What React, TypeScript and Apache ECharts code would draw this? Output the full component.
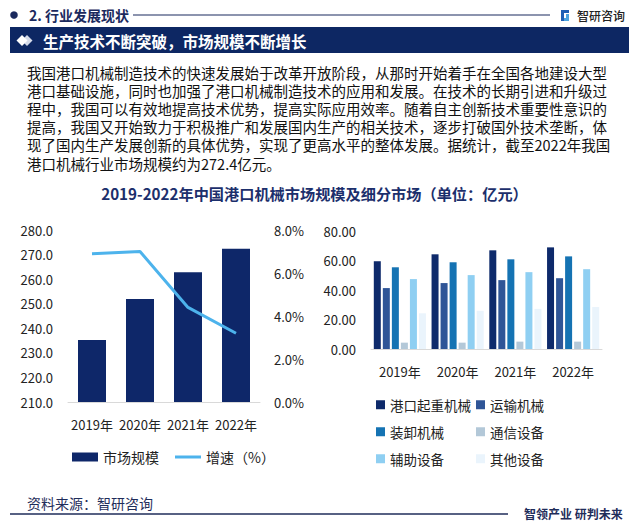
import React, { useEffect, useRef } from "react";
import * as echarts from "echarts";

const years = ["2019年", "2020年", "2021年", "2022年"];
const marketSize = [235.2, 251.9, 262.8, 272.4];
const growthRate = [6.9, 7.0, 4.4, 3.2];

const segmentNames = ["港口起重机械", "运输机械", "装卸机械", "通信设备", "辅助设备", "其他设备"];
const craneMachinery = [59.5, 64.2, 66.9, 68.9];
const transportMachinery = [41.3, 44.7, 46.7, 48.0];
const handlingMachinery = [55.4, 58.8, 60.8, 62.8];
const commEquipment = [4.3, 4.3, 5.0, 5.0];
const auxEquipment = [47.4, 50.1, 52.1, 54.1];
const otherEquipment = [24.2, 25.9, 27.2, 28.5];
const segmentValues = [craneMachinery, transportMachinery, handlingMachinery, commEquipment, auxEquipment, otherEquipment];
const segmentColors = ["#0E2A6B", "#2F5597", "#1573B3", "#B3C8D8", "#8FCFF2", "#EAF4FC"];

const paragraphLines = [
  "我国港口机械制造技术的快速发展始于改革开放阶段，从那时开始着手在全国各地建设大型",
  "港口基础设施，同时也加强了港口机械制造技术的应用和发展。在技术的长期引进和升级过",
  "程中，我国可以有效地提高技术优势，提高实际应用效率。随着自主创新技术重要性意识的",
  "提高，我国又开始致力于积极推广和发展国内生产的相关技术，逐步打破国外技术垄断，体",
  "现了国内生产发展创新的具体优势，实现了更高水平的整体发展。据统计，截至2022年我国",
  "港口机械行业市场规模约为272.4亿元。",
];

const FONT = "'Noto Sans CJK SC', 'Noto Sans', sans-serif";
const NAVY = "#0D2763";

export default function App() {
  const ref = useRef<HTMLDivElement>(null);
  useEffect(() => {
    if (!ref.current) return;
    const chart = echarts.init(ref.current, undefined, { renderer: "svg" });

    const graphics: any[] = [
      // header
      { type: "circle", shape: { cx: 14, cy: 15, r: 3.8 }, style: { fill: "#1B2A5E" } },
      { type: "text", x: 29, y: 15, style: { text: "2. 行业发展现状", font: `bold 14px ${FONT}`, fill: "#1B2A5E", verticalAlign: "middle" } },
      { type: "line", shape: { x1: 133, y1: 15, x2: 550, y2: 15 }, style: { stroke: "#1B2A5E", lineWidth: 1.2 } },
      { type: "rect", shape: { x: 561, y: 10, width: 3, height: 11 }, style: { fill: "#1E5FB5" } },
      { type: "rect", shape: { x: 564, y: 10, width: 5, height: 3 }, style: { fill: "#1E5FB5" } },
      { type: "rect", shape: { x: 566, y: 14, width: 3, height: 4 }, style: { fill: "#4AA3E0" } },
      { type: "rect", shape: { x: 564, y: 18, width: 5, height: 3 }, style: { fill: "#4AA3E0" } },
      { type: "text", x: 577, y: 15, style: { text: "智研咨询", font: `500 12px ${FONT}`, fill: "#222", verticalAlign: "middle" } },
      // banner
      { type: "rect", shape: { x: 10, y: 27, width: 619, height: 26 }, style: { fill: NAVY } },
      { type: "polygon", shape: { points: [[27, 35], [32.5, 40.5], [27, 46], [21.5, 40.5]] }, style: { fill: "#D6DCEA" } },
      { type: "polygon", shape: { points: [[22, 35], [27.5, 40.5], [22, 46], [16.5, 40.5]] }, style: { fill: "#FFFFFF" } },
      { type: "text", x: 43, y: 40.5, style: { text: "生产技术不断突破，市场规模不断增长", font: `bold 15.5px ${FONT}`, fill: "#FFFFFF", verticalAlign: "middle" } },
      // paragraph
      {
        type: "text",
        x: 27,
        y: 63,
        style: {
          text: paragraphLines.join("\n"),
          font: `14.5px ${FONT}`,
          lineHeight: 18.2,
          fill: "#111",
          verticalAlign: "top",
        },
      },
      // chart title
      { type: "text", x: 314.5, y: 193, style: { text: "2019-2022年中国港口机械市场规模及细分市场（单位：亿元）", font: `bold 15.2px ${FONT}`, fill: "#1C2F6C", align: "center", verticalAlign: "middle" } },
      // footer
      { type: "text", x: 27, y: 503, style: { text: "资料来源：智研咨询", font: `14px ${FONT}`, fill: "#1F2D5A", verticalAlign: "middle" } },
      { type: "line", shape: { x1: 10, y1: 514, x2: 508, y2: 514 }, style: { stroke: "#1F2D5A", lineWidth: 1.5 } },
      { type: "text", x: 524, y: 513, style: { text: "智领产业 研判未来", font: `bold 12px ${FONT}`, fill: "#1F2D5A", verticalAlign: "middle" } },
    ];

    const axisLabelStyle = { fontSize: 13, color: "#222", fontFamily: FONT };

    const option: any = {
      animation: false,
      backgroundColor: "#FFFFFF",
      textStyle: { fontFamily: FONT },
      graphic: graphics,
      grid: [
        { left: 68, top: 230, width: 192, height: 172 },
        { left: 371, top: 231, width: 231, height: 118 },
      ],
      legend: [
        {
          left: 67,
          top: 445,
          itemWidth: 26,
          itemHeight: 9,
          itemGap: 16,
          itemTextGap: 3,
          textStyle: { fontSize: 14, color: "#222", fontFamily: FONT },
          data: [
            { name: "市场规模", icon: "rect" },
            { name: "增速（%）", icon: "path://M0,0 L26,0 L26,3 L0,3 Z" },
          ],
        },
        {
          left: 371,
          top: 393,
          orient: "vertical",
          itemWidth: 9,
          itemHeight: 9,
          itemGap: 13.5,
          itemTextGap: 4,
          textStyle: { fontSize: 13.5, color: "#222", fontFamily: FONT },
          data: [segmentNames[0], segmentNames[2], segmentNames[4]].map((n) => ({ name: n, icon: "rect" })),
        },
        {
          left: 471,
          top: 393,
          orient: "vertical",
          itemWidth: 9,
          itemHeight: 9,
          itemGap: 13.5,
          itemTextGap: 4,
          textStyle: { fontSize: 13.5, color: "#222", fontFamily: FONT },
          data: [segmentNames[1], segmentNames[3], segmentNames[5]].map((n) => ({ name: n, icon: "rect" })),
        },
      ],
      xAxis: [
        {
          type: "category",
          gridIndex: 0,
          data: years,
          axisLine: { lineStyle: { color: "#D9D9D9" } },
          axisTick: { show: false },
          axisLabel: { ...axisLabelStyle, margin: 16, interval: 0 },
        },
        {
          type: "category",
          gridIndex: 1,
          data: years,
          axisLine: { lineStyle: { color: "#D9D9D9" } },
          axisTick: { show: false },
          axisLabel: { ...axisLabelStyle, margin: 16, interval: 0 },
        },
      ],
      yAxis: [
        {
          type: "value",
          gridIndex: 0,
          min: 210,
          max: 280,
          interval: 10,
          splitLine: { show: false },
          axisLine: { show: false },
          axisTick: { show: false },
          axisLabel: { ...axisLabelStyle, margin: 15, formatter: (v: number) => v.toFixed(1) },
        },
        {
          type: "value",
          gridIndex: 0,
          position: "right",
          min: 0,
          max: 8,
          interval: 2,
          splitLine: { show: false },
          axisLine: { show: false },
          axisTick: { show: false },
          axisLabel: { ...axisLabelStyle, margin: 14, formatter: (v: number) => v.toFixed(1) + "%" },
        },
        {
          type: "value",
          gridIndex: 1,
          min: 0,
          max: 80,
          interval: 20,
          splitLine: { show: false },
          axisLine: { show: false },
          axisTick: { show: false },
          axisLabel: { ...axisLabelStyle, margin: 15, formatter: (v: number) => v.toFixed(2) },
        },
      ],
      series: [
        {
          name: "市场规模",
          type: "bar",
          xAxisIndex: 0,
          yAxisIndex: 0,
          barWidth: 28,
          data: marketSize,
          itemStyle: { color: "#0E2769" },
        },
        {
          name: "增速（%）",
          type: "line",
          xAxisIndex: 0,
          yAxisIndex: 1,
          data: growthRate,
          symbol: "none",
          lineStyle: { color: "#4DB3EC", width: 3 },
          itemStyle: { color: "#4DB3EC" },
        },
        ...segmentNames.map((name, i) => ({
          name,
          type: "bar",
          xAxisIndex: 1,
          yAxisIndex: 2,
          barWidth: 7,
          barGap: "29%",
          data: segmentValues[i],
          itemStyle: { color: segmentColors[i] },
        })),
      ],
    };
    chart.setOption(option);
    return () => chart.dispose();
  }, []);

  return (
    <div
      ref={ref}
      style={{ position: "absolute", left: 0, top: 0, width: 636, height: 526, background: "#fff" }}
    />
  );
}
